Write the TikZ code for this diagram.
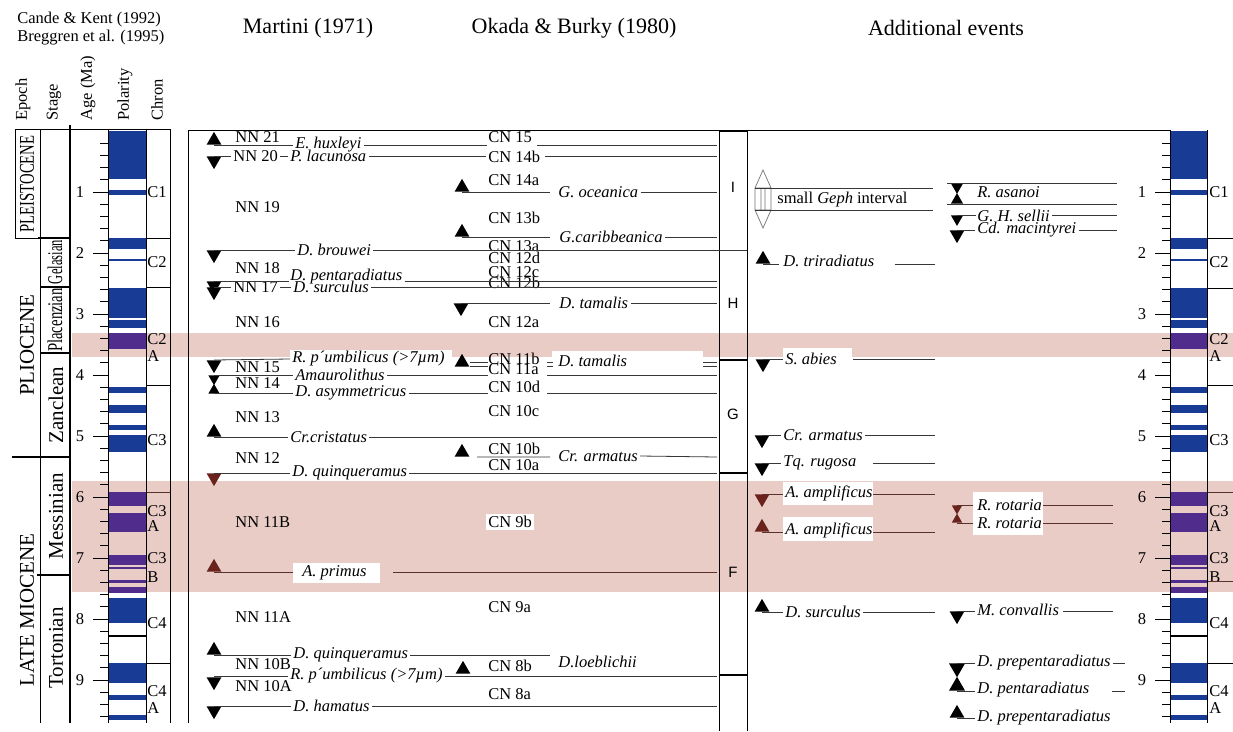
\documentclass[tikz,border=0pt]{standalone}
\usepackage{fontspec}
\setmainfont{Liberation Serif}
\newfontfamily\zonefont{Liberation Sans}
\usetikzlibrary{shapes.geometric}
\definecolor{pinkb}{RGB}{233,204,198}
\definecolor{polb}{RGB}{24,60,150}
\definecolor{polp}{RGB}{80,45,140}
\definecolor{brn}{RGB}{105,35,28}
\definecolor{lnb}{RGB}{90,50,45}
\definecolor{lnk}{RGB}{55,55,55}
\begin{document}
\begin{tikzpicture}[x=1pt,y=-1pt,line width=0.8pt,
 lab/.style={inner sep=2pt,font=\fontsize{16.5}{17}\selectfont,anchor=west},
 ev/.style={inner sep=2pt,font=\fontsize{16.5}{17}\selectfont\itshape,anchor=west},
 hdr/.style={inner sep=0pt,font=\fontsize{22}{24}\selectfont},
 rot/.style={inner sep=0pt,rotate=90,font=\fontsize{21}{22}\selectfont},
 rhd/.style={inner sep=0pt,rotate=90,anchor=west,font=\fontsize{16.5}{17}\selectfont},
 evl/.style={line width=0.8pt,draw=lnk},
 tri/.style={regular polygon,regular polygon sides=3,minimum size=17pt,inner sep=0pt,fill=black,draw=none},
 tup/.style={tri,anchor=side 2},
 tdn/.style={tri,shape border rotate=180,anchor=side 2},
 thk/.style={line width=2pt},
 zl/.style={font=\zonefont\fontsize{15}{15}\selectfont,inner sep=0pt}]
\fill[white] (0,0) rectangle (1233,731);
\useasboundingbox (0,0) rectangle (1233,731);
% pink bands
\fill[pinkb] (72,333) rectangle (1233,357);
\fill[pinkb] (72,481) rectangle (1233,592);
% white label boxes
\fill[white] (290,350) rectangle (452,369);
\fill[white] (552,351) rectangle (703,372);
\fill[white] (293,563) rectangle (380,583);
\fill[white] (783,348) rectangle (852,370);
\fill[white] (783,482) rectangle (873,505);
\fill[white] (783,517) rectangle (873,541);
\fill[white] (973,492) rectangle (1043,535);
% polarity
\foreach \a/\b in {131/179,190/195,238/249,259.4/260.8,288/318,320/328,387/393,405/413,425/430,435/452,598/623,663/683,695/700,715/720}{
  \fill[polb] (108,\a) rectangle (146,\b);
  \fill[polb] (1170,\a) rectangle (1207,\b);}
\foreach \a/\b in {333/349,492/506,513/532,555/565,567/569,580/583,587/593}{
  \fill[polp] (108,\a) rectangle (146,\b);
  \fill[polp] (1170,\a) rectangle (1207,\b);}
\fill[black] (108,635) rectangle (146,637);
\fill[black] (1170,635) rectangle (1207,637);
% ticks and ages
\foreach \i in {1,...,48}{
  \draw[line width=0.7pt] (100,{131+12.2*\i}) -- (108,{131+12.2*\i});
  \draw[line width=0.7pt] (1162,{131+12.2*\i}) -- (1170,{131+12.2*\i});}
\foreach \k in {1,...,9}{
  \draw[line width=0.7pt] (93,{131+61*\k}) -- (108,{131+61*\k});
  \draw[line width=0.7pt] (1155,{131+61*\k}) -- (1170,{131+61*\k});
  \node[lab,anchor=center] (agl\k) at (80,{131+61*\k}) {\k};
  \node[lab,anchor=center] (agr\k) at (1142,{131+61*\k}) {\k};}
% chron labels
\foreach \t/\y [count=\c] in {C1/192,C2/262,C2/339,A/356,C3/440,C3/511,A/526,C3/558,B/577,C4/623,C4/691,A/708}{
  \node[lab] (chl\c) at (145,\y) {\t};
  \node[lab] (chr\c) at (1207,\y) {\t};}
\foreach \y in {238,287,385,663} \draw (146,\y) -- (170,\y);
\draw[lnb] (146,492) -- (170,492);
\foreach \y in {238,288,385,663} \draw (1207,\y) -- (1233,\y);
\draw[lnb] (1207,492) -- (1233,492) (1207,581) -- (1233,581);
% left columns
\draw (15,129) -- (170,129);
\draw (108,129) -- (108,723) (146,129) -- (146,723) (170,129) -- (170,723);
\draw[line width=2.5pt] (70,125) -- (70,723);
\draw (15,129) -- (15,238) (40,129) -- (40,723) (15,238) -- (40,238);
\draw[thk] (38,238) -- (70,238) (40,287) -- (70,287) (40,353) -- (70,353) (12,457) -- (70,457) (37,575) -- (70,575);
\node[rot] (ep1) at (27,184) {\scalebox{0.7}[1]{PLEISTOCENE}};
\node[rot] (ep2) at (27,345) {PLIOCENE};
\node[rot] (ep3) at (27,610) {LATE MIOCENE};
\node[rot] (st1) at (55,262) {\scalebox{0.6}[1]{Gelasian}};
\node[rot] (st2) at (55,320) {\scalebox{0.7}[1]{Placenzian}};
\node[rot] (st3) at (56,405) {Zanclean};
\node[rot] (st4) at (56,516) {Messinian};
\node[rot] (st5) at (56,648) {Tortonian};
% headers
\node[lab] (ck) at (15,20) {Cande \& Kent (1992)};
\node[lab] (br) at (15,38) {Breggren et al. (1995)};
\node[rhd] (hep) at (23,121) {Epoch};
\node[rhd] (hst) at (54,121) {Stage};
\node[rhd] (hag) at (88,121) {Age (Ma)};
\node[rhd] (hpo) at (125,121) {Polarity};
\node[rhd] (hch) at (157,121) {Chron};
\node[hdr] (hm) at (308,28) {Martini (1971)};
\node[hdr] (ho) at (574,28) {Okada \& Burky (1980)};
\node[hdr] (ha) at (946,28) {Additional events};
% main frame and zone column
\draw (188,130) -- (1170,130);
\draw (188,130) -- (188,723);
\draw (719,130) -- (719,731) (747,130) -- (747,731);
\draw (1170,130) -- (1170,723) (1207,130) -- (1207,723);
\draw[thk] (719,131) -- (747,131) (719,360) -- (747,360) (719,473) -- (747,473) (719,675) -- (747,675);
\node[zl] (zI) at (733,187) {I};
\node[zl] (zH) at (733,303) {H};
\node[zl] (zG) at (733,414) {G};
\node[zl] (zF) at (733,572) {F};
% ---- Martini / Okada zone labels
\node[lab] (nn21) at (233,137) {NN 21};
\node[lab] (nn19) at (233,207) {NN 19};
\node[lab] (nn18) at (233,268) {NN 18};
\node[lab] (nn16) at (233,322) {NN 16};
\node[lab] (nn15) at (233,367) {NN 15};
\node[lab] (nn14) at (233,383) {NN 14};
\node[lab] (nn13) at (233,417) {NN 13};
\node[lab] (nn12) at (233,458) {NN 12};
\node[lab] (nn11b) at (233,522) {NN 11B};
\node[lab] (nn11a) at (233,617) {NN 11A};
\node[lab] (nn10b) at (233,664) {NN 10B};
\node[lab] (nn10a) at (233,686) {NN 10A};
\node[lab] (cn15) at (486,137) {CN 15};
\node[lab] (cn14a) at (486,180) {CN 14a};
\node[lab] (cn13b) at (486,218) {CN 13b};
\node[lab] (cn13a) at (486,246) {CN 13a};
\node[lab] (cn12d) at (486,258) {CN 12d};
\node[lab] (cn12c) at (486,272) {CN 12c};
\node[lab] (cn12b) at (486,283) {CN 12b};
\node[lab] (cn12a) at (486,322) {CN 12a};
\node[lab] (cn11b) at (486,359) {CN 11b};
\node[lab] (cn11a) at (486,369) {CN 11a};
\node[lab] (cn10d) at (486,387) {CN 10d};
\node[lab] (cn10c) at (486,411) {CN 10c};
\node[lab] (cn10b) at (486,449) {CN 10b};
\node[lab] (cn10a) at (486,465) {CN 10a};
\node[lab,fill=white] (cn9b) at (486,522) {CN 9b};
\node[lab] (cn9a) at (486,607) {CN 9a};
\node[lab] (cn8b) at (486,666) {CN 8b};
\node[lab] (cn8a) at (486,694) {CN 8a};
% E. huxleyi
\node[tup] (t1) at (214,145) {};
\node[ev] (e1) at (293,145) {E. huxleyi};
\draw[evl] (214,145) -- (e1.west) (e1.east) -- (487,145) (537,145) -- (717,145);
% P. lacunosa
\node[tdn] (t2) at (214,156) {};
\node[lab] (nn20) at (231,156) {NN 20};
\node[ev] (e2) at (288,156) {P. lacunosa};
\node[lab] (cn14b) at (486,157) {CN 14b};
\draw[evl] (214,156) -- (nn20.west) (nn20.east) -- (e2.west) (e2.east) -- (486,156) (545,156) -- (717,156);
% G. oceanica
\node[tup] (t3) at (462,192) {};
\node[ev] (e3) at (556,192) {G. oceanica};
\draw[evl] (462,192) -- (550,192) (e3.east) -- (717,192);
% G.caribbeanica
\node[tup] (t4) at (462,237) {};
\node[ev] (e4) at (557,237) {G.caribbeanica};
\draw[evl] (462,237) -- (550,237) (e4.east) -- (717,237);
% D. brouwei
\node[tdn] (t5) at (214,250) {};
\node[ev] (e5) at (295,250) {D. brouwei};
\draw[evl] (214,250) -- (e5.west) (e5.east) -- (747,250);
% D. pentaradiatus / D. surculus
\node[tdn] (t6) at (214,281) {};
\node[tdn] (t7) at (214,287) {};
\node[ev] (e6) at (288,277) {D. pentaradiatus};
\node[lab] (nn17) at (231,287) {NN 17};
\node[ev] (e7) at (291,287) {D. surculus};
\draw[evl] (214,281) -- (289,281) (e6.east |- t6.side 2) -- (717,281);
\draw[evl] (214,287) -- (nn17.west) (nn17.east) -- (e7.west) (e7.east) -- (717,287);
% D. tamalis (Okada)
\node[tdn] (t8) at (461,303) {};
\node[ev] (e8) at (557,303) {D. tamalis};
\draw[evl] (461,303) -- (550,303) (e8.east) -- (717,303);
% R. p'umbilicus (upper)
\node[tdn] (t9) at (214,360) {};
\node[ev] (e9) at (290,359) {R. p´umbilicus (>7µm)};
\draw[evl] (214,360) -- (e9.west);
% D. tamalis CN11a/b
\node[tup] (t10) at (462,367) {};
\draw[evl] (470,362) -- (488,362) (547,362) -- (553,362) (703,362) -- (717,362)
           (470,366) -- (488,366) (547,366) -- (553,366) (703,366) -- (717,366);
\node[ev] (e10) at (556,361) {D. tamalis};
% Amaurolithus / D. asymmetricus
\node[tdn,minimum size=13pt] (t11) at (214,375) {};
\node[tup,minimum size=13pt] (t12) at (214,394) {};
\node[ev] (e11) at (293,375) {Amaurolithus};
\node[ev] (e12) at (293,393) {D. asymmetricus};
\draw[evl] (214,375) -- (e11.west) (e11.east) -- (488,375) (547,375) -- (717,375);
\draw[evl] (214,393) -- (e12.west) (e12.east) -- (488,393) (547,393) -- (717,393);
% Cr. cristatus
\node[tup] (t13) at (214,437) {};
\node[ev] (e13) at (288,437) {Cr.cristatus};
\draw[evl] (214,437) -- (e13.west) (e13.east) -- (717,437);
% Cr. armatus (Okada)
\node[tup] (t14) at (462,457) {};
\node[ev] (e14) at (556,456) {Cr. armatus};
\draw[evl] (477,457) -- (550,457) (e14.east) -- (717,457);
% D. quinqueramus (upper)
\node[tdn,fill=brn] (t15) at (214,473) {};
\node[ev] (e15) at (290,473) {D. quinqueramus};
\draw[evl] (214,473) -- (e15.west) (e15.east) -- (717,473);
% A. primus
\node[tup,fill=brn] (t16) at (214,572) {};
\node[ev] (e16) at (300,573) {A. primus};
\draw[evl,draw=lnb] (214,572) -- (293,572) (393,572) -- (717,572);
% D. quinqueramus (lower)
\node[tup] (t17) at (214,655) {};
\node[ev] (e17) at (291,655) {D. quinqueramus};
\draw[evl] (214,655) -- (e17.west) (e17.east) -- (550,655);
% D. loeblichii
\node[tup] (t18) at (463,674) {};
\node[ev] (e18) at (556,662) {D.loeblichii};
% R. p'umbilicus (lower)
\node[tdn] (t19) at (214,677) {};
\node[ev] (e19) at (288,676) {R. p´umbilicus (>7µm)};
\draw[evl] (214,676) -- (e19.west) (e19.east) -- (717,676);
% D. hamatus
\node[tdn] (t20) at (214,706) {};
\node[ev] (e20) at (291,706) {D. hamatus};
\draw[evl] (214,706) -- (e20.west) (e20.east) -- (717,706);
% ---- Additional events
\draw[black!55,line width=0.7pt] (755,188) -- (763,170) -- (771,188) (755,210) -- (763,228) -- (771,210)
  (755,188) rectangle (771,210) (761,188) -- (761,210) (765,188) -- (765,210);
\draw[evl] (755,188) -- (933,188) (755,210) -- (933,210);
\node[lab] (geph) at (775,200) {small \textit{Geph} interval};
% R. asanoi
\node[tdn,minimum size=14pt] (a1) at (957,183) {};
\node[tup,minimum size=14pt] (a2) at (957,204) {};
\draw[evl] (947,183) -- (1117,183) (947,204) -- (1117,204);
\node[ev] (ras) at (975,192) {R. asanoi};
% G. H. sellii
\node[tdn,minimum size=14pt] (a3) at (957,215) {};
\node[ev] (ghs) at (975,216) {G. H. sellii};
\draw[evl] (957,215) -- (976,215) (ghs.east |- a3.side 2) -- (1117,215);
% Cd. macintyrei
\node[tdn] (a4) at (957,230) {};
\node[ev] (cdm) at (975,230) {Cd. macintyrei};
\draw[evl] (957,230) -- (cdm.west) (cdm.east) -- (1117,230);
% D. triradiatus
\node[tup] (a5) at (763,264) {};
\node[ev] (dtr) at (781,261) {D. triradiatus};
\draw[evl] (763,264) -- (779,264) (895,264) -- (935,264);
% S. abies
\node[tdn] (a6) at (763,359) {};
\node[ev] (sab) at (783,359) {S. abies};
\draw[evl] (763,359) -- (783,359) (853,359) -- (935,359);
% Cr. armatus
\node[tdn] (a7) at (762,435) {};
\node[ev] (cra) at (781,435) {Cr. armatus};
\draw[evl] (762,435) -- (cra.west) (cra.east) -- (935,435);
% Tq. rugosa
\node[tdn] (a8) at (762,463) {};
\node[ev] (tqr) at (781,463) {Tq. rugosa};
\draw[evl] (762,463) -- (tqr.west) (873,463) -- (935,463);
% A. amplificus
\node[tdn,fill=brn] (a9) at (762,494) {};
\node[ev] (aa1) at (783,493) {A. amplificus};
\draw[evl,draw=lnb] (762,494) -- (783,494) (873,494) -- (935,494);
\node[tup,fill=brn] (a10) at (762,532) {};
\node[ev] (aa2) at (783,530) {A. amplificus};
\draw[evl,draw=lnb] (762,532) -- (783,532) (873,532) -- (935,532);
% R. rotaria
\node[tdn,minimum size=12pt,fill=brn] (a11) at (957,505) {};
\node[tup,minimum size=12pt,fill=brn] (a12) at (957,523) {};
\node[ev] (rr1) at (975,505) {R. rotaria};
\node[ev] (rr2) at (975,523) {R. rotaria};
\draw[evl,draw=lnb] (957,505) -- (973,505) (1043,505) -- (1113,505) (957,523) -- (973,523) (1043,523) -- (1113,523);
% D. surculus
\node[tup] (a13) at (762,612) {};
\node[ev] (dsu) at (783,612) {D. surculus};
\draw[evl] (762,612) -- (dsu.west) (dsu.east) -- (935,612);
% M. convallis
\node[tdn] (a14) at (957,611) {};
\node[ev] (mco) at (975,610) {M. convallis};
\draw[evl] (957,611) -- (975,611) (1063,611) -- (1113,611);
% D. prepentaradiatus / D. pentaradiatus
\node[tdn,minimum size=18.5pt] (a15) at (957,663) {};
\node[tup,minimum size=18.5pt] (a16) at (957,691) {};
\node[ev] (dpp1) at (975,663) {D. prepentaradiatus};
\node[ev] (dpe) at (975,690) {D. pentaradiatus};
\draw[evl] (957,663) -- (dpp1.west) (dpp1.east) -- (1125,663) (957,691) -- (975,691) (1112,691) -- (1125,691);
\node[tup] (a17) at (957,718) {};
\node[ev] (dpp2) at (975,718) {D. prepentaradiatus};
\draw[evl] (957,718) -- (dpp2.west);
\end{tikzpicture}
\end{document}
